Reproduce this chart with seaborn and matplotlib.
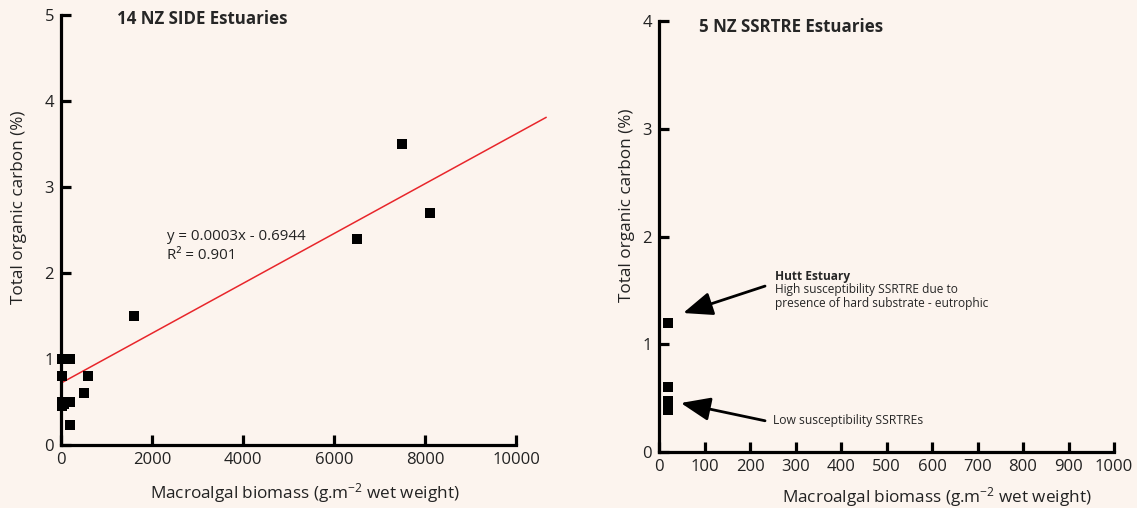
import matplotlib
matplotlib.use("Agg")
import matplotlib.pyplot as plt
import numpy as np
import pandas as pd
import seaborn as sns

# left panel: 14 NZ SIDE estuaries
side_biomass = [7500, 8100, 6500, 1600, 20, 200, 20, 600, 500, 20, 200, 20, 200, 60]
side_toc = [3.5, 2.7, 2.4, 1.5, 1.0, 1.0, 0.8, 0.8, 0.6, 0.5, 0.5, 0.45, 0.23, 0.48]

# regression line as drawn in the reference
fit_x = [0, 10660]
fit_y = [0.72, 3.81]

# right panel: 5 NZ SSRTRE estuaries
ssrtre_biomass = [20, 20, 20, 20, 20]
ssrtre_toc = [1.2, 0.6, 0.47, 0.43, 0.39]

left_xticks = [0, 2000, 4000, 6000, 8000, 10000]
left_yticks = [0, 1, 2, 3, 4, 5]
right_xticks = list(range(0, 1001, 100))
right_yticks = [0, 1, 2, 3, 4]

bg = "#fcf4ee"

sns.set_theme(style="ticks")
plt.rcParams["font.family"] = ["Open Sans", "DejaVu Sans"]
plt.rcParams["mathtext.fontset"] = "custom"
plt.rcParams["mathtext.rm"] = "Open Sans"
plt.rcParams["mathtext.it"] = "Open Sans:italic"

fig = plt.figure(figsize=(11.37, 5.08), dpi=100, facecolor=bg)
ax1 = fig.add_axes([0.0537, 0.124, 0.4283, 0.8465])
ax2 = fig.add_axes([0.5796, 0.1102, 0.4002, 0.8484])

xlabel = "Macroalgal biomass (g.m$^{-2}$ wet weight)"
ylabel = "Total organic carbon (%)"


def style_axes(ax, xticks, yticks, xmax, ymax):
    ax.set_facecolor(bg)
    for s in ["top", "right"]:
        ax.spines[s].set_visible(False)
    for s in ["left", "bottom"]:
        ax.spines[s].set_linewidth(2.3)
        ax.spines[s].set_color("black")
    ax.spines["bottom"].set_bounds(0, xticks[-1])
    ax.spines["left"].set_bounds(0, yticks[-1])
    ax.set_xlim(0, xmax)
    ax.set_ylim(0, ymax)
    ax.set_xticks(xticks)
    ax.set_yticks(yticks)
    ax.tick_params(direction="in", length=7.5, width=2.3, labelsize=12,
                   color="black", labelcolor="#222222", pad=5)


df1 = pd.DataFrame({"x": side_biomass, "y": side_toc})
sns.scatterplot(data=df1, x="x", y="y", ax=ax1, marker="s", s=55,
                color="black", edgecolor="black", linewidth=0, clip_on=False, zorder=3)
sns.lineplot(x=fit_x, y=fit_y, ax=ax1, color="#e8262b", linewidth=1.1)
style_axes(ax1, left_xticks, left_yticks, 10700, 5)

ax1.set_xlabel(xlabel, fontsize=12.3, color="#222222")
ax1.set_ylabel(ylabel, fontsize=12.3, color="#222222")
ax1.xaxis.set_label_coords((305 - 61) / 487, -(493 - 445) / 430)
ax1.yaxis.set_label_coords((19 - 61) / 487, (445 - 207) / 430)
ax1.xaxis.label.set_va("center")
ax1.yaxis.label.set_va("center")

ax1.text(1230, 4.95, "14 NZ SIDE Estuaries", fontsize=12.2, fontweight="bold",
         va="center", ha="left")
ax1.text(2330, 2.43, "y = 0.0003x - 0.6944", fontsize=10.8, va="center", color="#222222")
ax1.text(2330, 2.20, "R\u00b2 = 0.901", fontsize=10.8, va="center", color="#222222")

df2 = pd.DataFrame({"x": ssrtre_biomass, "y": ssrtre_toc})
sns.scatterplot(data=df2, x="x", y="y", ax=ax2, marker="s", s=50,
                color="black", edgecolor="black", linewidth=0, clip_on=False, zorder=3)
style_axes(ax2, right_xticks, right_yticks, 1000, 4)

ax2.set_xlabel(xlabel, fontsize=12.3, color="#222222")
ax2.set_ylabel(ylabel, fontsize=12.3, color="#222222")
ax2.xaxis.set_label_coords((937 - 659) / 455, -(497 - 452) / 431)
ax2.yaxis.set_label_coords((627 - 659) / 455, (452 - 205) / 431)
ax2.xaxis.label.set_va("center")
ax2.yaxis.label.set_va("center")

ax2.text(88, 3.94, "5 NZ SSRTRE Estuaries", fontsize=12.2, fontweight="bold",
         va="center", ha="left")

arrow = dict(arrowstyle="-|>,head_length=1.5,head_width=0.6", color="black",
             lw=2, shrinkA=0, shrinkB=0)
ax2.annotate("", xy=(53, 1.29), xytext=(233, 1.54), arrowprops=arrow)
ax2.annotate("", xy=(48, 0.455), xytext=(233, 0.29), arrowprops=arrow)

ax2.text(255, 1.63, "Hutt Estuary", fontsize=8.6, fontweight="bold", va="center")
ax2.text(255, 1.51, "High susceptibility SSRTRE due to", fontsize=8.6, va="center")
ax2.text(255, 1.38, "presence of hard substrate - eutrophic", fontsize=8.6, va="center")
ax2.text(251, 0.29, "Low susceptibility SSRTREs", fontsize=8.7, va="center")

fig.savefig("out.png", dpi=100, facecolor=bg)
